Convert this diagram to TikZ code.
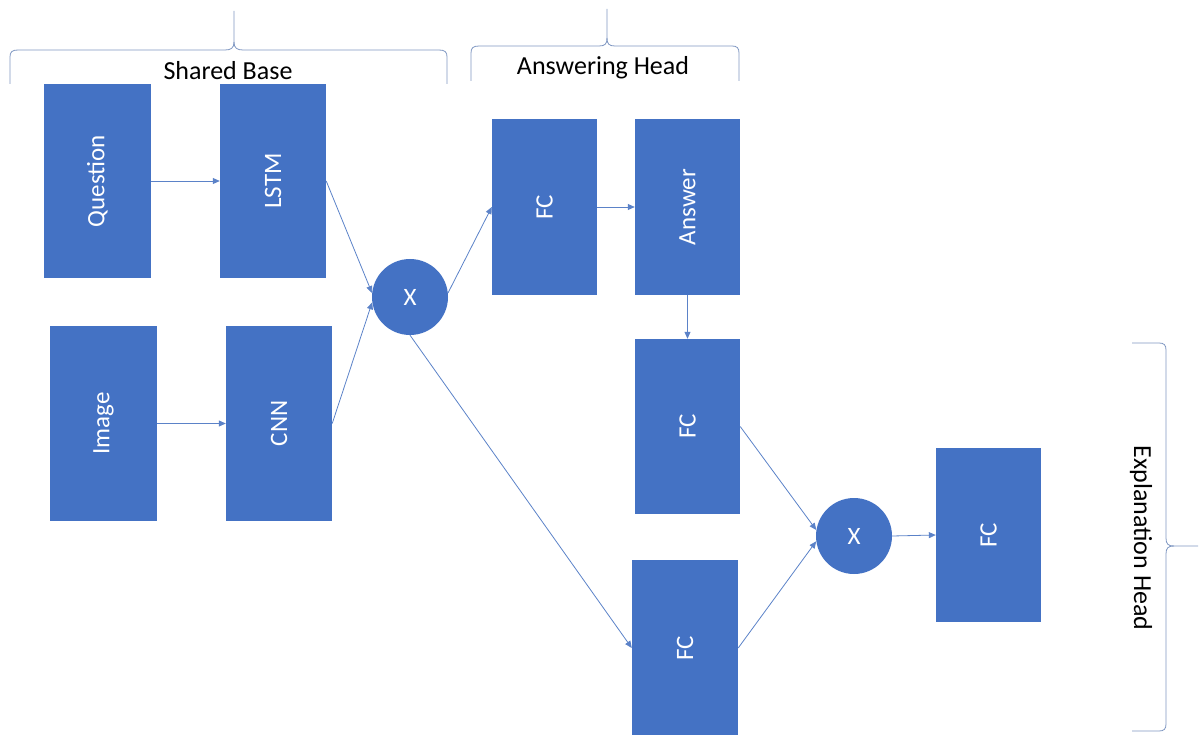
\documentclass[tikz,border=0pt]{standalone}
\usepackage{fontspec}
\setmainfont{Carlito}
\usetikzlibrary{arrows.meta}
\definecolor{boxblue}{HTML}{4472C4}
\definecolor{lineblue}{HTML}{5B82C8}
\definecolor{bracecol}{HTML}{7F97C2}
\tikzset{
  box/.style={fill=boxblue, draw=none, inner sep=0pt, text=white, font=\fontsize{25}{28}\selectfont},
  mult/.style={circle, fill=boxblue, draw=none, minimum size=76pt, inner sep=0pt, text=white, font=\fontsize{25}{28}\selectfont},
  conn/.style={draw=lineblue, line width=0.8pt, -{Triangle[length=7pt,width=6pt]}},
  bracestyle/.style={draw=bracecol, line width=0.8pt},
  lbl/.style={text=black, font=\fontsize{26}{30}\selectfont, inner sep=0pt}
}
\begin{document}
\begin{tikzpicture}[x=1pt,y=-1pt]
\path[use as bounding box] (0,0) rectangle (1199,735);
% boxes
\node[box, minimum width=107pt, minimum height=194pt] (q) at (97.5,181) {\rotatebox{90}{Question}};
\node[box, minimum width=106pt, minimum height=194pt] (lstm) at (273,181) {\rotatebox{90}{LSTM}};
\node[box, minimum width=107pt, minimum height=195pt] (img) at (103.5,423.5) {\rotatebox{90}{Image}};
\node[box, minimum width=106pt, minimum height=195pt] (cnn) at (279,423.5) {\rotatebox{90}{CNN}};
\node[mult] (x1) at (410,297) {X};
\node[box, minimum width=105pt, minimum height=176pt] (fc1) at (544.5,207) {\rotatebox{90}{FC}};
\node[box, minimum width=105pt, minimum height=176pt] (ans) at (687.5,207) {\rotatebox{90}{Answer}};
\node[box, minimum width=105pt, minimum height=175pt] (fc2) at (687.5,426.5) {\rotatebox{90}{FC}};
\node[box, minimum width=106pt, minimum height=176pt] (fc3) at (685,648) {\rotatebox{90}{FC}};
\node[mult] (x2) at (854,536) {X};
\node[box, minimum width=105pt, minimum height=174pt] (fc4) at (988.5,535) {\rotatebox{90}{FC}};
% connectors
\draw[conn] (q.east) -- (lstm.west);
\draw[conn] (img.east) -- (cnn.west);
\draw[conn] (lstm.east) -- (x1.174);
\draw[conn] (cnn.east) -- (x1.188);
\draw[conn] (x1.6) -- (fc1.west);
\draw[conn] (x1.south) -- (fc3.west);
\draw[conn] (fc1.east) -- (ans.west);
\draw[conn] (ans.south) -- (fc2.north);
\draw[conn] (fc2.east) -- (x2.171);
\draw[conn] (fc3.east) -- (x2.188);
\draw[conn] (x2.east) -- (fc4.west);
% braces
\draw[bracestyle] (10,84) -- (10,57) .. controls (10,52) and (12,50) .. (18,50) -- (225,50)
  .. controls (231,50) and (234,48) .. (234,42) -- (234,11);
\draw[bracestyle] (234,42) .. controls (234,48) and (237,50) .. (243,50) -- (439,50)
  .. controls (445,50) and (447,52) .. (447,57) -- (447,84);
\node[lbl] (sb) at (228,71) {Shared Base};
\draw[bracestyle] (471,81) -- (471,53) .. controls (471,48) and (473,46) .. (479,46) -- (599,46)
  .. controls (605,46) and (607,44) .. (607,38) -- (607,9);
\draw[bracestyle] (607,38) .. controls (607,44) and (609,46) .. (615,46) -- (732,46)
  .. controls (737,46) and (739,48) .. (739,53) -- (739,81);
\node[lbl] (ah) at (603,68) {Answering Head};
\draw[bracestyle] (1132,343) -- (1159,343) .. controls (1164,343) and (1166,345) .. (1166,350) -- (1166,538)
  .. controls (1166,544) and (1168,546) .. (1174,546) -- (1198,546);
\draw[bracestyle] (1132,731) -- (1159,731) .. controls (1164,731) and (1166,729) .. (1166,724) -- (1166,554)
  .. controls (1166,548) and (1168,546) .. (1174,546);
\node[lbl, rotate=-90] (eh) at (1141,538) {Explanation Head};
\end{tikzpicture}
\end{document}
